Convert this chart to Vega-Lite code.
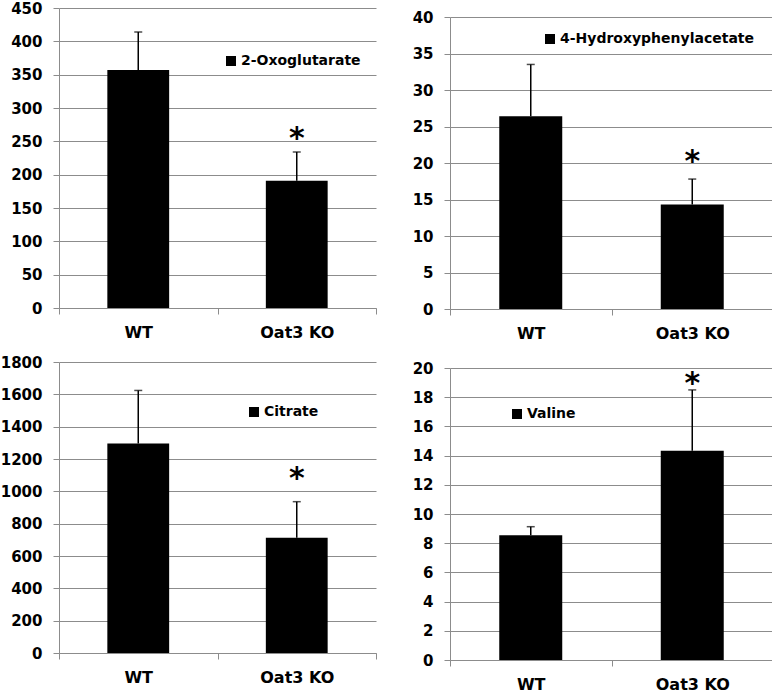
{
  "$schema": "https://vega.github.io/schema/vega-lite/v6.json",
  "padding": {"left": 0, "top": 1, "right": 3, "bottom": 0},
  "background": "white",
  "data": {"values": [
    {"metabolite": "2-Oxoglutarate", "group": "WT", "mean": 357, "upper": 414, "sig": ""},
    {"metabolite": "2-Oxoglutarate", "group": "Oat3 KO", "mean": 191, "upper": 234, "sig": "*"},
    {"metabolite": "4-Hydroxyphenylacetate", "group": "WT", "mean": 26.4, "upper": 33.5, "sig": ""},
    {"metabolite": "4-Hydroxyphenylacetate", "group": "Oat3 KO", "mean": 14.3, "upper": 17.8, "sig": "*"},
    {"metabolite": "Citrate", "group": "WT", "mean": 1296, "upper": 1624, "sig": ""},
    {"metabolite": "Citrate", "group": "Oat3 KO", "mean": 713, "upper": 936, "sig": "*"},
    {"metabolite": "Valine", "group": "WT", "mean": 8.54, "upper": 9.13, "sig": ""},
    {"metabolite": "Valine", "group": "Oat3 KO", "mean": 14.34, "upper": 18.5, "sig": "*"}
  ]},
  "spacing": 35,
  "resolve": {"scale": {"color": "independent"}, "legend": {"color": "independent"}},
  "hconcat": [
    {
      "spacing": 15,
      "resolve": {"scale": {"color": "independent"}, "legend": {"color": "independent"}},
      "vconcat": [
        {
          "width": 317, "height": 300,
          "transform": [{"filter": "datum.metabolite === '2-Oxoglutarate'"}],
          "encoding": {"x": {"field": "group", "type": "nominal", "sort": ["WT", "Oat3 KO"], "title": null, "scale": {"paddingInner": 0, "paddingOuter": 0}, "axis": {"tickBand": "extent"}}},
          "layer": [
            {"mark": {"type": "bar", "width": {"band": 0.39}}, "encoding": {
              "y": {"field": "mean", "type": "quantitative", "title": null, "scale": {"domain": [0, 450], "nice": false}, "axis": {"values": [0, 50, 100, 150, 200, 250, 300, 350, 400, 450], "format": "d", "labelOverlap": false}},
              "color": {"field": "metabolite", "type": "nominal", "scale": {"range": ["#000000"]}, "legend": {"orient": "none", "legendX": 165, "legendY": 46}}
            }},
            {"mark": {"type": "rule", "color": "black", "strokeWidth": 1.5}, "encoding": {"y": {"field": "mean", "type": "quantitative", "title": null, "axis": {"values": [0, 50, 100, 150, 200, 250, 300, 350, 400, 450], "format": "d", "labelOverlap": false}}, "y2": {"field": "upper"}}},
            {"mark": {"type": "tick", "color": "black", "thickness": 1.5, "size": 8, "orient": "horizontal"}, "encoding": {"y": {"field": "upper", "type": "quantitative", "title": null, "axis": {"values": [0, 50, 100, 150, 200, 250, 300, 350, 400, 450], "format": "d", "labelOverlap": false}}}},
            {"transform": [{"filter": "datum.sig === '*'"}], "mark": {"type": "text", "fontSize": 30, "fontWeight": "bold", "baseline": "alphabetic", "dy": -4, "color": "black"}, "encoding": {"y": {"field": "upper", "type": "quantitative", "title": null, "axis": {"values": [0, 50, 100, 150, 200, 250, 300, 350, 400, 450], "format": "d", "labelOverlap": false}}, "text": {"field": "sig"}}}
          ]
        },
        {
          "width": 317, "height": 291,
          "transform": [{"filter": "datum.metabolite === 'Citrate'"}],
          "encoding": {"x": {"field": "group", "type": "nominal", "sort": ["WT", "Oat3 KO"], "title": null, "scale": {"paddingInner": 0, "paddingOuter": 0}, "axis": {"tickBand": "extent"}}},
          "layer": [
            {"mark": {"type": "bar", "width": {"band": 0.39}}, "encoding": {
              "y": {"field": "mean", "type": "quantitative", "title": null, "scale": {"domain": [0, 1800], "nice": false}, "axis": {"values": [0, 200, 400, 600, 800, 1000, 1200, 1400, 1600, 1800], "format": "d", "labelOverlap": false}},
              "color": {"field": "metabolite", "type": "nominal", "scale": {"range": ["#000000"]}, "legend": {"orient": "none", "legendX": 188, "legendY": 43}}
            }},
            {"mark": {"type": "rule", "color": "black", "strokeWidth": 1.5}, "encoding": {"y": {"field": "mean", "type": "quantitative", "title": null, "axis": {"values": [0, 200, 400, 600, 800, 1000, 1200, 1400, 1600, 1800], "format": "d", "labelOverlap": false}}, "y2": {"field": "upper"}}},
            {"mark": {"type": "tick", "color": "black", "thickness": 1.5, "size": 8, "orient": "horizontal"}, "encoding": {"y": {"field": "upper", "type": "quantitative", "title": null, "axis": {"values": [0, 200, 400, 600, 800, 1000, 1200, 1400, 1600, 1800], "format": "d", "labelOverlap": false}}}},
            {"transform": [{"filter": "datum.sig === '*'"}], "mark": {"type": "text", "fontSize": 30, "fontWeight": "bold", "baseline": "alphabetic", "dy": -14, "color": "black"}, "encoding": {"y": {"field": "upper", "type": "quantitative", "title": null, "axis": {"values": [0, 200, 400, 600, 800, 1000, 1200, 1400, 1600, 1800], "format": "d", "labelOverlap": false}}, "text": {"field": "sig"}}}
          ]
        }
      ]
    },
    {
      "spacing": 1,
      "resolve": {"scale": {"color": "independent"}, "legend": {"color": "independent"}},
      "vconcat": [
        {"data": {"values": []}, "width": 323, "height": 1, "mark": {"type": "point", "opacity": 0}},
        {
          "spacing": 20,
          "resolve": {"scale": {"color": "independent"}, "legend": {"color": "independent"}},
          "vconcat": [
            {
              "width": 323, "height": 292,
              "transform": [{"filter": "datum.metabolite === '4-Hydroxyphenylacetate'"}],
              "encoding": {"x": {"field": "group", "type": "nominal", "sort": ["WT", "Oat3 KO"], "title": null, "scale": {"paddingInner": 0, "paddingOuter": 0}, "axis": {"tickBand": "extent"}}},
              "layer": [
                {"mark": {"type": "bar", "width": {"band": 0.39}}, "encoding": {
                  "y": {"field": "mean", "type": "quantitative", "title": null, "scale": {"domain": [0, 40], "nice": false}, "axis": {"values": [0, 5, 10, 15, 20, 25, 30, 35, 40], "format": "d", "labelOverlap": false}},
                  "color": {"field": "metabolite", "type": "nominal", "scale": {"range": ["#000000"]}, "legend": {"orient": "none", "legendX": 93, "legendY": 15}}
                }},
                {"mark": {"type": "rule", "color": "black", "strokeWidth": 1.5}, "encoding": {"y": {"field": "mean", "type": "quantitative", "title": null, "axis": {"values": [0, 5, 10, 15, 20, 25, 30, 35, 40], "format": "d", "labelOverlap": false}}, "y2": {"field": "upper"}}},
                {"mark": {"type": "tick", "color": "black", "thickness": 1.5, "size": 8, "orient": "horizontal"}, "encoding": {"y": {"field": "upper", "type": "quantitative", "title": null, "axis": {"values": [0, 5, 10, 15, 20, 25, 30, 35, 40], "format": "d", "labelOverlap": false}}}},
                {"transform": [{"filter": "datum.sig === '*'"}], "mark": {"type": "text", "fontSize": 30, "fontWeight": "bold", "baseline": "alphabetic", "dy": -8, "color": "black"}, "encoding": {"y": {"field": "upper", "type": "quantitative", "title": null, "axis": {"values": [0, 5, 10, 15, 20, 25, 30, 35, 40], "format": "d", "labelOverlap": false}}, "text": {"field": "sig"}}}
              ]
            },
            {
              "width": 323, "height": 292,
              "transform": [{"filter": "datum.metabolite === 'Valine'"}],
              "encoding": {"x": {"field": "group", "type": "nominal", "sort": ["WT", "Oat3 KO"], "title": null, "scale": {"paddingInner": 0, "paddingOuter": 0}, "axis": {"tickBand": "extent"}}},
              "layer": [
                {"mark": {"type": "bar", "width": {"band": 0.39}}, "encoding": {
                  "y": {"field": "mean", "type": "quantitative", "title": null, "scale": {"domain": [0, 20], "nice": false}, "axis": {"values": [0, 2, 4, 6, 8, 10, 12, 14, 16, 18, 20], "format": "d", "labelOverlap": false}},
                  "color": {"field": "metabolite", "type": "nominal", "scale": {"range": ["#000000"]}, "legend": {"orient": "none", "legendX": 60, "legendY": 39}}
                }},
                {"mark": {"type": "rule", "color": "black", "strokeWidth": 1.5}, "encoding": {"y": {"field": "mean", "type": "quantitative", "title": null, "axis": {"values": [0, 2, 4, 6, 8, 10, 12, 14, 16, 18, 20], "format": "d", "labelOverlap": false}}, "y2": {"field": "upper"}}},
                {"mark": {"type": "tick", "color": "black", "thickness": 1.5, "size": 8, "orient": "horizontal"}, "encoding": {"y": {"field": "upper", "type": "quantitative", "title": null, "axis": {"values": [0, 2, 4, 6, 8, 10, 12, 14, 16, 18, 20], "format": "d", "labelOverlap": false}}}},
                {"transform": [{"filter": "datum.sig === '*'"}], "mark": {"type": "text", "fontSize": 30, "fontWeight": "bold", "baseline": "alphabetic", "dy": 3, "color": "black"}, "encoding": {"y": {"field": "upper", "type": "quantitative", "title": null, "axis": {"values": [0, 2, 4, 6, 8, 10, 12, 14, 16, 18, 20], "format": "d", "labelOverlap": false}}, "text": {"field": "sig"}}}
              ]
            }
          ]
        }
      ]
    }
  ],
  "config": {
    "font": "DejaVu Sans",
    "view": {"stroke": null},
    "bar": {"opacity": 1},
    "axisX": {"labelAngle": 0, "labelFont": "DejaVu Sans", "labelFontSize": 16, "labelFontWeight": "bold", "labelColor": "#000000", "domainColor": "#8c8c8c", "domainWidth": 1, "tickColor": "#8c8c8c", "tickSize": 6, "labelPadding": 10, "grid": false},
    "axisY": {"labelFont": "DejaVu Sans", "labelFontSize": 15, "labelFontWeight": "bold", "labelColor": "#000000", "labelOverlap": false, "labelFlush": false, "domainColor": "#8c8c8c", "domainWidth": 1, "tickColor": "#8c8c8c", "tickSize": 6, "labelPadding": 11, "grid": true, "gridColor": "#8c8c8c", "gridWidth": 1, "gridOpacity": 1},
    "legend": {"title": null, "symbolType": "square", "symbolSize": 100, "symbolStrokeWidth": 0, "symbolOpacity": 1, "labelFont": "DejaVu Sans", "labelFontSize": 14, "labelFontWeight": "bold", "labelColor": "#000000", "labelLimit": 400, "padding": 0, "labelOffset": 3}
  }
}
